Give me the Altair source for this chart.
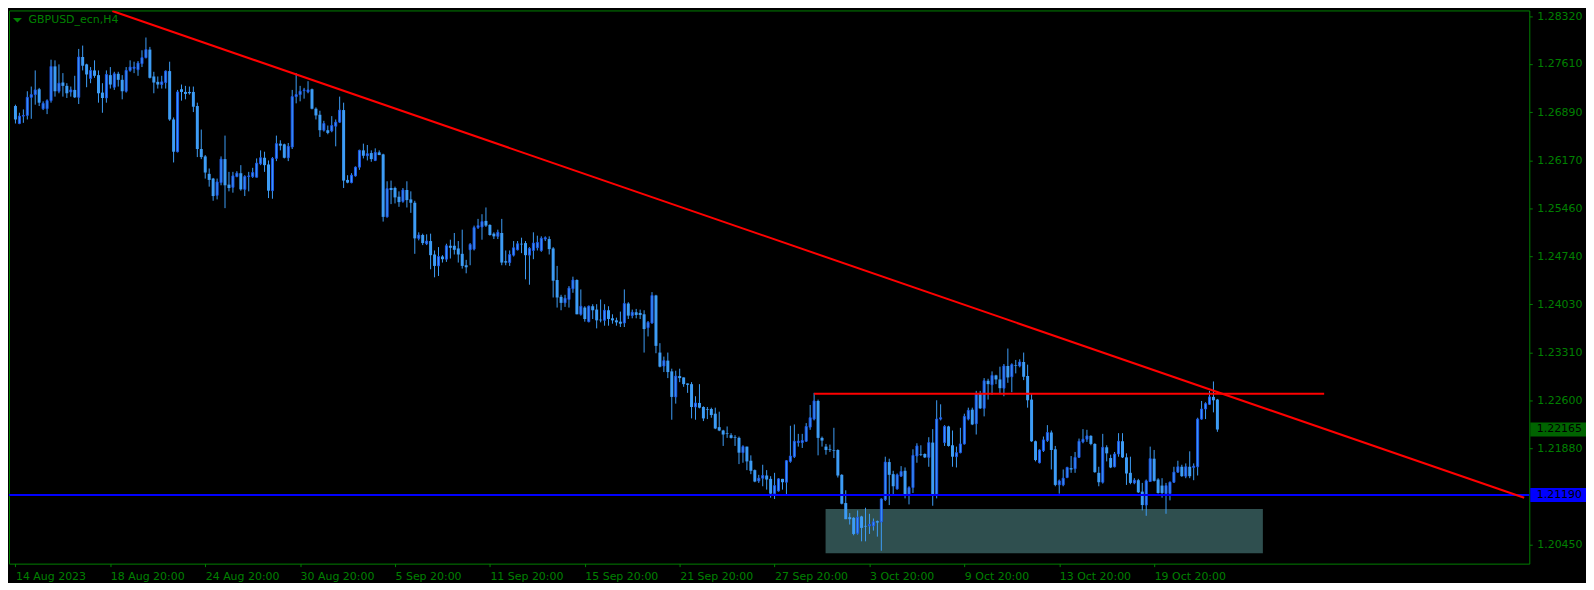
import altair as alt
import pandas as pd

# ---------------- data (GBPUSD H4, bar index 0 = 14 Aug 2023 20:00) ----------------
open_ = [
 1.2698,1.2672,1.2683,1.2684,1.2711,1.2715,1.2723,1.2694,1.2694,1.2706,
 1.2757,1.2720,1.2733,1.2728,1.2719,1.2722,1.2711,1.2771,1.2760,1.2739,
 1.2751,1.2744,1.2718,1.2710,1.2744,1.2726,1.2746,1.2737,1.2720,1.2751,
 1.2754,1.2752,1.2761,1.2770,1.2782,1.2742,1.2734,1.2730,1.2733,1.2750,
 1.2678,1.2630,1.2723,1.2719,1.2719,1.2719,1.2698,1.2634,1.2623,1.2597,
 1.2590,1.2565,1.2584,1.2619,1.2581,1.2577,1.2593,1.2598,1.2574,1.2593,
 1.2593,1.2592,1.2612,1.2621,1.2611,1.2572,1.2620,1.2642,1.2641,1.2621,
 1.2637,1.2712,1.2715,1.2721,1.2719,1.2723,1.2694,1.2685,1.2662,1.2662,
 1.2661,1.2668,1.2674,1.2692,1.2588,1.2584,1.2594,1.2607,1.2632,1.2624,
 1.2628,1.2617,1.2629,1.2626,1.2533,1.2576,1.2576,1.2563,1.2556,1.2573,
 1.2559,1.2554,1.2501,1.2506,1.2493,1.2497,1.2477,1.2460,1.2474,1.2470,
 1.2490,1.2490,1.2486,1.2478,1.2461,1.2484,1.2485,1.2517,1.2518,1.2527,
 1.2521,1.2508,1.2504,1.2509,1.2467,1.2465,1.2476,1.2484,1.2493,1.2494,
 1.2476,1.2483,1.2487,1.2483,1.2500,1.2500,1.2486,1.2439,1.2414,1.2405,
 1.2410,1.2426,1.2439,1.2388,1.2398,1.2377,1.2400,1.2395,1.2380,1.2379,
 1.2394,1.2382,1.2379,1.2377,1.2375,1.2404,1.2386,1.2391,1.2390,1.2388,
 1.2368,1.2375,1.2416,1.2331,1.2311,1.2319,1.2303,1.2265,1.2296,1.2294,
 1.2285,1.2284,1.2250,1.2256,1.2250,1.2247,1.2247,1.2240,1.2220,1.2215,
 1.2211,1.2208,1.2205,1.2204,1.2182,1.2191,1.2170,1.2156,1.2140,1.2144,
 1.2148,1.2143,1.2121,1.2125,1.2143,1.2138,1.2169,1.2176,1.2197,1.2197,
 1.2199,1.2220,1.2232,1.2259,1.2204,1.2191,1.2187,1.2186,1.2186,1.2149,
 1.2107,1.2086,1.2085,1.2062,1.2087,1.2073,1.2073,1.2073,1.2080,1.2079,
 1.2112,1.2168,1.2150,1.2128,1.2147,1.2155,1.2120,1.2130,1.2177,1.2180,
 1.2180,1.2175,1.2197,1.2120,1.2232,1.2197,1.2221,1.2193,1.2176,1.2182,
 1.2195,1.2232,1.2246,1.2225,1.2270,1.2248,1.2289,1.2283,1.2297,1.2291,
 1.2278,1.2311,1.2295,1.2312,1.2311,1.2317,1.2296,1.2261,1.2199,1.2167,
 1.2185,1.2200,1.2212,1.2187,1.2134,1.2134,1.2145,1.2159,1.2158,1.2175,
 1.2198,1.2202,1.2207,1.2195,1.2152,1.2138,1.2190,1.2174,1.2161,1.2180,
 1.2199,1.2175,1.2152,1.2137,1.2141,1.2124,1.2104,1.2139,1.2173,1.2142,
 1.2133,1.2121,1.2121,1.2138,1.2153,1.2161,1.2147,1.2161,1.2160,1.2161,
 1.2232,1.2247,1.2254,1.2265,1.2261,
]
high = [
 1.2700,1.2688,1.2693,1.2720,1.2727,1.2751,1.2725,1.2705,1.2708,1.2767,
 1.2766,1.2760,1.2747,1.2732,1.2727,1.2743,1.2783,1.2788,1.2761,1.2756,
 1.2766,1.2751,1.2732,1.2751,1.2756,1.2749,1.2749,1.2744,1.2756,1.2766,
 1.2764,1.2765,1.2781,1.2800,1.2786,1.2749,1.2742,1.2743,1.2751,1.2764,
 1.2681,1.2722,1.2730,1.2728,1.2727,1.2727,1.2703,1.2663,1.2625,1.2605,
 1.2591,1.2590,1.2623,1.2654,1.2600,1.2600,1.2601,1.2610,1.2595,1.2600,
 1.2606,1.2620,1.2632,1.2630,1.2617,1.2622,1.2654,1.2647,1.2642,1.2643,
 1.2722,1.2747,1.2728,1.2725,1.2735,1.2724,1.2696,1.2691,1.2676,1.2669,
 1.2683,1.2678,1.2712,1.2703,1.2595,1.2598,1.2608,1.2633,1.2642,1.2640,
 1.2632,1.2635,1.2632,1.2627,1.2586,1.2587,1.2578,1.2571,1.2576,1.2586,
 1.2571,1.2557,1.2510,1.2508,1.2507,1.2508,1.2483,1.2488,1.2476,1.2493,
 1.2499,1.2509,1.2497,1.2514,1.2469,1.2494,1.2520,1.2530,1.2537,1.2547,
 1.2522,1.2510,1.2514,1.2530,1.2483,1.2483,1.2497,1.2497,1.2502,1.2497,
 1.2488,1.2510,1.2505,1.2504,1.2504,1.2504,1.2488,1.2460,1.2417,1.2417,
 1.2430,1.2444,1.2440,1.2425,1.2400,1.2401,1.2403,1.2403,1.2410,1.2403,
 1.2400,1.2388,1.2383,1.2392,1.2425,1.2406,1.2395,1.2396,1.2395,1.2394,
 1.2378,1.2421,1.2417,1.2345,1.2325,1.2331,1.2307,1.2304,1.2307,1.2294,
 1.2285,1.2287,1.2266,1.2284,1.2251,1.2250,1.2249,1.2249,1.2243,1.2216,
 1.2221,1.2211,1.2208,1.2206,1.2193,1.2191,1.2178,1.2157,1.2149,1.2164,
 1.2156,1.2147,1.2152,1.2144,1.2143,1.2171,1.2222,1.2224,1.2210,1.2210,
 1.2226,1.2253,1.2271,1.2261,1.2206,1.2195,1.2194,1.2219,1.2187,1.2150,
 1.2126,1.2092,1.2086,1.2096,1.2088,1.2100,1.2091,1.2084,1.2081,1.2114,
 1.2176,1.2173,1.2155,1.2151,1.2162,1.2160,1.2132,1.2187,1.2196,1.2193,
 1.2181,1.2205,1.2217,1.2260,1.2254,1.2223,1.2222,1.2215,1.2191,1.2219,
 1.2240,1.2249,1.2249,1.2274,1.2274,1.2293,1.2292,1.2303,1.2298,1.2310,
 1.2314,1.2337,1.2315,1.2320,1.2321,1.2331,1.2313,1.2270,1.2200,1.2187,
 1.2206,1.2223,1.2215,1.2192,1.2142,1.2157,1.2161,1.2177,1.2183,1.2203,
 1.2217,1.2216,1.2208,1.2196,1.2161,1.2210,1.2193,1.2179,1.2183,1.2211,
 1.2211,1.2181,1.2176,1.2144,1.2143,1.2137,1.2142,1.2191,1.2186,1.2144,
 1.2144,1.2137,1.2139,1.2161,1.2170,1.2164,1.2166,1.2184,1.2166,1.2234,
 1.2259,1.2257,1.2274,1.2288,1.2262,
]
low = [
 1.2672,1.2671,1.2673,1.2678,1.2679,1.2700,1.2698,1.2692,1.2686,1.2703,
 1.2712,1.2717,1.2712,1.2710,1.2712,1.2710,1.2701,1.2751,1.2726,1.2732,
 1.2740,1.2703,1.2688,1.2703,1.2724,1.2722,1.2727,1.2708,1.2718,1.2749,
 1.2747,1.2743,1.2756,1.2769,1.2739,1.2717,1.2724,1.2724,1.2724,1.2676,
 1.2614,1.2629,1.2706,1.2708,1.2715,1.2689,1.2622,1.2619,1.2590,1.2578,
 1.2557,1.2559,1.2580,1.2546,1.2571,1.2569,1.2592,1.2572,1.2564,1.2571,
 1.2591,1.2592,1.2610,1.2600,1.2561,1.2560,1.2616,1.2632,1.2620,1.2616,
 1.2634,1.2702,1.2705,1.2709,1.2717,1.2693,1.2678,1.2652,1.2660,1.2656,
 1.2659,1.2638,1.2673,1.2576,1.2583,1.2583,1.2593,1.2603,1.2620,1.2617,
 1.2615,1.2616,1.2625,1.2526,1.2532,1.2552,1.2553,1.2548,1.2554,1.2547,
 1.2539,1.2478,1.2498,1.2491,1.2491,1.2455,1.2443,1.2445,1.2465,1.2466,
 1.2471,1.2477,1.2465,1.2456,1.2449,1.2461,1.2483,1.2515,1.2499,1.2518,
 1.2505,1.2500,1.2500,1.2461,1.2461,1.2460,1.2474,1.2483,1.2479,1.2440,
 1.2432,1.2470,1.2483,1.2481,1.2497,1.2477,1.2413,1.2398,1.2394,1.2399,
 1.2398,1.2420,1.2388,1.2386,1.2377,1.2376,1.2381,1.2367,1.2376,1.2371,
 1.2371,1.2374,1.2371,1.2369,1.2369,1.2381,1.2382,1.2382,1.2381,1.2331,
 1.2355,1.2374,1.2330,1.2309,1.2302,1.2293,1.2231,1.2255,1.2287,1.2280,
 1.2271,1.2233,1.2231,1.2248,1.2229,1.2232,1.2234,1.2217,1.2214,1.2192,
 1.2204,1.2203,1.2192,1.2165,1.2167,1.2156,1.2150,1.2138,1.2137,1.2132,
 1.2127,1.2115,1.2113,1.2124,1.2127,1.2120,1.2167,1.2174,1.2191,1.2189,
 1.2198,1.2216,1.2230,1.2178,1.2191,1.2179,1.2183,1.2174,1.2145,1.2105,
 1.2083,1.2075,1.2059,1.2060,1.2050,1.2050,1.2061,1.2066,1.2057,1.2036,
 1.2110,1.2104,1.2118,1.2127,1.2146,1.2114,1.2105,1.2122,1.2167,1.2177,
 1.2174,1.2161,1.2103,1.2114,1.2230,1.2192,1.2191,1.2161,1.2160,1.2181,
 1.2194,1.2230,1.2223,1.2209,1.2247,1.2236,1.2261,1.2268,1.2284,1.2269,
 1.2266,1.2286,1.2272,1.2300,1.2309,1.2290,1.2249,1.2198,1.2169,1.2166,
 1.2183,1.2198,1.2157,1.2132,1.2121,1.2132,1.2144,1.2152,1.2152,1.2174,
 1.2196,1.2198,1.2193,1.2152,1.2132,1.2136,1.2169,1.2159,1.2160,1.2176,
 1.2174,1.2134,1.2135,1.2135,1.2122,1.2096,1.2088,1.2139,1.2139,1.2121,
 1.2115,1.2091,1.2111,1.2137,1.2152,1.2146,1.2144,1.2144,1.2141,1.2148,
 1.2231,1.2232,1.2253,1.2242,1.2213,
]
close = [
 1.2678,1.2683,1.2684,1.2711,1.2715,1.2722,1.2703,1.2702,1.2706,1.2757,
 1.2720,1.2732,1.2728,1.2717,1.2722,1.2711,1.2771,1.2758,1.2745,1.2751,
 1.2743,1.2717,1.2710,1.2745,1.2730,1.2746,1.2737,1.2720,1.2751,1.2756,
 1.2756,1.2762,1.2770,1.2782,1.2740,1.2733,1.2730,1.2734,1.2750,1.2678,
 1.2630,1.2719,1.2719,1.2716,1.2717,1.2697,1.2634,1.2622,1.2599,1.2588,
 1.2564,1.2585,1.2619,1.2580,1.2576,1.2594,1.2598,1.2574,1.2593,1.2594,
 1.2599,1.2613,1.2621,1.2610,1.2572,1.2620,1.2642,1.2639,1.2621,1.2638,
 1.2712,1.2715,1.2720,1.2722,1.2722,1.2694,1.2684,1.2662,1.2672,1.2658,
 1.2669,1.2674,1.2692,1.2587,1.2584,1.2595,1.2607,1.2632,1.2624,1.2627,
 1.2619,1.2629,1.2625,1.2533,1.2575,1.2573,1.2562,1.2555,1.2573,1.2558,
 1.2554,1.2501,1.2506,1.2494,1.2497,1.2476,1.2460,1.2474,1.2470,1.2490,
 1.2487,1.2484,1.2477,1.2460,1.2458,1.2492,1.2517,1.2520,1.2526,1.2520,
 1.2506,1.2504,1.2510,1.2465,1.2465,1.2477,1.2487,1.2493,1.2492,1.2476,
 1.2486,1.2494,1.2495,1.2501,1.2502,1.2485,1.2438,1.2413,1.2405,1.2412,
 1.2427,1.2439,1.2388,1.2400,1.2381,1.2400,1.2394,1.2379,1.2379,1.2394,
 1.2381,1.2379,1.2376,1.2374,1.2404,1.2386,1.2391,1.2387,1.2387,1.2366,
 1.2376,1.2416,1.2341,1.2310,1.2319,1.2302,1.2265,1.2296,1.2293,1.2284,
 1.2283,1.2250,1.2256,1.2249,1.2233,1.2246,1.2238,1.2218,1.2215,1.2209,
 1.2210,1.2204,1.2204,1.2182,1.2191,1.2169,1.2155,1.2139,1.2144,1.2148,
 1.2142,1.2121,1.2133,1.2143,1.2138,1.2170,1.2177,1.2199,1.2199,1.2200,
 1.2221,1.2234,1.2259,1.2204,1.2200,1.2186,1.2186,1.2185,1.2148,1.2106,
 1.2083,1.2083,1.2061,1.2086,1.2070,1.2072,1.2075,1.2079,1.2078,1.2113,
 1.2168,1.2149,1.2132,1.2149,1.2154,1.2120,1.2130,1.2178,1.2192,1.2179,
 1.2175,1.2197,1.2120,1.2232,1.2234,1.2221,1.2192,1.2176,1.2182,1.2195,
 1.2236,1.2245,1.2224,1.2270,1.2248,1.2289,1.2284,1.2297,1.2291,1.2278,
 1.2311,1.2294,1.2313,1.2311,1.2317,1.2295,1.2260,1.2199,1.2171,1.2186,
 1.2201,1.2212,1.2186,1.2134,1.2140,1.2144,1.2160,1.2157,1.2175,1.2199,
 1.2202,1.2207,1.2195,1.2153,1.2138,1.2190,1.2181,1.2160,1.2180,1.2199,
 1.2175,1.2151,1.2137,1.2141,1.2123,1.2104,1.2140,1.2173,1.2140,1.2122,
 1.2122,1.2133,1.2138,1.2153,1.2161,1.2147,1.2161,1.2147,1.2162,1.2232,
 1.2247,1.2255,1.2265,1.2260,1.22165,
]

x_tick_pos = [0, 24, 48, 72, 96, 120, 144, 168, 192, 216, 240, 264, 288]
x_tick_labels = ["14 Aug 2023", "18 Aug 20:00", "24 Aug 20:00", "30 Aug 20:00",
                 "5 Sep 20:00", "11 Sep 20:00", "15 Sep 20:00", "21 Sep 20:00",
                 "27 Sep 20:00", "3 Oct 20:00", "9 Oct 20:00", "13 Oct 20:00",
                 "19 Oct 20:00"]
y_tick_values = [1.28320, 1.27610, 1.26890, 1.26170, 1.25460, 1.24740,
                 1.24030, 1.23310, 1.22600, 1.21880, 1.20450]

bid_price = 1.22165
support_price = 1.21190
resist_price = 1.22697
resist_from, resist_to = 202, 331
trend_bars = [24.5, 381.6]
trend_prices = [1.28394, 1.21148]
zone_bars = [204.9, 315.5]
zone_prices = [1.20322, 1.20980]
symbol_title = "GBPUSD_ecn,H4"

# ---------------- tables ----------------
candles = pd.DataFrame({"i": list(range(len(close))), "o": open_, "h": high,
                        "l": low, "c": close})
candles["dir"] = ["up" if c >= o else "down" for o, c in zip(open_, close)]
zone_df = pd.DataFrame({"x1": [zone_bars[0]], "x2": [zone_bars[1]],
                        "p1": [zone_prices[0]], "p2": [zone_prices[1]]})
support_df = pd.DataFrame({"p": [support_price]})
resist_df = pd.DataFrame({"x1": [resist_from], "x2": [resist_to], "p": [resist_price]})
trend_df = pd.DataFrame({"x": trend_bars, "p": trend_prices})
boxes_df = pd.DataFrame({"p": [bid_price, support_price],
                         "t": [f"{bid_price:.5f}", f"{support_price:.5f}"],
                         "col": ["#006400", "#0000ff"]})
title_df = pd.DataFrame({"t": [symbol_title]})

# ---------------- styling ----------------
W, H = 1528, 556
GREEN = "#008000"
LIGHT = "#3d9cf5"
DARK = "#1e58e8"
FONT = "DejaVu Sans"

xscale = alt.Scale(domain=[-0.375, 381.625], nice=False, zero=False)
yscale = alt.Scale(domain=[1.20168, 1.28403], nice=False, zero=False)

labels_js = "[" + ",".join("'%s'" % s for s in x_tick_labels) + "]"
pos_js = "[" + ",".join(str(v) for v in x_tick_pos) + "]"
xaxis = alt.Axis(values=x_tick_pos, title=None, orient="bottom", domain=False,
                 grid=False, ticks=True, tickSize=3, tickColor=GREEN,
                 labelExpr=f"{labels_js}[indexof({pos_js}, datum.value)]",
                 labelColor=GREEN, labelFont=FONT, labelFontSize=11,
                 labelAlign="left", labelBaseline="top", labelPadding=4,
                 labelOverlap=False, labelFlush=False)
yaxis = alt.Axis(values=y_tick_values, format=".5f", title=None, orient="right",
                 domain=False, grid=False, ticks=True, tickSize=3,
                 tickColor=GREEN, labelColor=GREEN, labelFont=FONT,
                 labelFontSize=11, labelPadding=4.5, labelAlign="left",
                 labelBaseline="middle", labelOverlap=False, labelFlush=False)


def X(field):
    return alt.X(field, type="quantitative", scale=xscale, axis=xaxis)


def Y(field):
    return alt.Y(field, type="quantitative", scale=yscale, axis=yaxis)


zone = alt.Chart(zone_df).mark_rect(color="#2f4f4f").encode(
    x=X("x1"), x2="x2", y=Y("p1"), y2="p2")

wicks = alt.Chart(candles).mark_rule(color=LIGHT, strokeWidth=1).encode(
    x=X("i"), y=Y("l"), y2="h")

bear = alt.Chart(candles).transform_filter(alt.datum.dir == "down").mark_bar(
    width=3, color=LIGHT).encode(x=X("i"), y=Y("o"), y2="c")

bull = alt.Chart(candles).transform_filter(alt.datum.dir == "up").mark_bar(
    width=2, fill=LIGHT, stroke=DARK, strokeWidth=1).encode(
    x=X("i"), y=Y("o"), y2="c")

support = alt.Chart(support_df).mark_rule(color="#0000ff", strokeWidth=2).encode(
    y=Y("p"))

resist = alt.Chart(resist_df).mark_rule(color="#ff0000", strokeWidth=2).encode(
    x=X("x1"), x2="x2", y=Y("p"))

trend = alt.Chart(trend_df).mark_line(color="#ff0000", strokeWidth=2, clip=True).encode(
    x=X("x"), y=Y("p"))

box_shape = "M-1,-0.25L1,-0.25L1,0.25L-1,0.25Z"
boxes = alt.Chart(boxes_df).mark_point(shape=box_shape, size=3136, filled=True,
                                       opacity=1, strokeWidth=0).encode(
    x=alt.value(W + 29), y=Y("p"), color=alt.Color("col:N", scale=None))

box_text = alt.Chart(boxes_df).mark_text(align="left", baseline="middle", font=FONT,
                                         fontSize=11, color="#000000").encode(
    x=alt.value(W + 7.5), y=Y("p"), text="t:N")

title_txt = alt.Chart(title_df).mark_text(align="left", baseline="middle", font=FONT,
                                          fontSize=11, color=GREEN).encode(
    x=alt.value(19.7), y=alt.value(9.7), text="t:N")

tri = alt.Chart(title_df).mark_point(shape="M-1,-0.5L1,-0.5L0,0.5Z", size=81,
                                     filled=True, opacity=1, strokeWidth=0,
                                     color=GREEN).encode(
    x=alt.value(8.5), y=alt.value(9.9))

chart = alt.layer(zone, wicks, bear, bull, support, resist, trend, boxes, box_text,
                  title_txt, tri).properties(
    width=W, height=H, padding=0
).configure(background="#000000").configure_view(
    stroke=GREEN, strokeWidth=1, fill="#000000")

chart.save("out.html", embed_options={"renderer": "svg", "actions": False})
